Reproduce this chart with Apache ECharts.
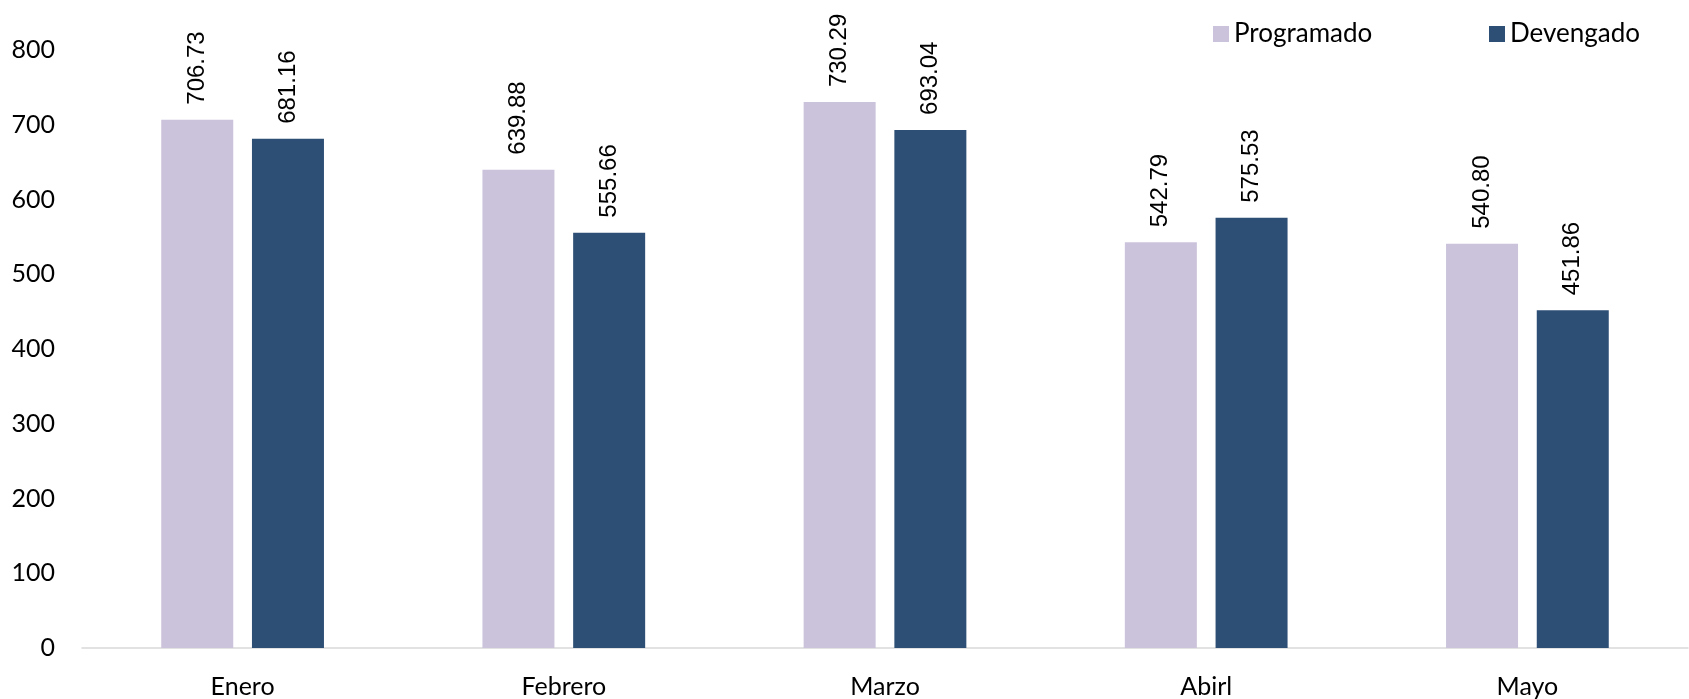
<!DOCTYPE html>
<html>
<head>
<meta charset="utf-8">
<script src="https://cdn.jsdelivr.net/npm/echarts@6/dist/echarts.min.js"></script>
<style>
  html, body { margin: 0; padding: 0; background: #ffffff; }
  #chart { width: 1689px; height: 699px; }
</style>
</head>
<body>
<div id="chart"></div>
<script>
// Monthly budget execution: programmed vs. accrued
const months = ['Enero', 'Febrero', 'Marzo', 'Abirl', 'Mayo'];
const programado = [706.73, 639.88, 730.29, 542.79, 540.80];
const devengado = [681.16, 555.66, 693.04, 575.53, 451.86];
const yTicks = [0, 100, 200, 300, 400, 500, 600, 700, 800];

const axisFont = 'Lato, "Open Sans", sans-serif';
const labelFont = '"Liberation Sans", Arial, sans-serif';

const valueLabel = {
  show: true,
  position: 'top',
  rotate: 90,
  align: 'left',
  verticalAlign: 'middle',
  distance: 15,
  color: '#000000',
  fontFamily: labelFont,
  fontSize: 24,
  formatter: p => p.value.toFixed(2)
};

const chart = echarts.init(document.getElementById('chart'), null, { renderer: 'canvas' });
chart.setOption({
  animation: false,
  backgroundColor: '#ffffff',
  grid: { left: 82, right: 1, top: 50, bottom: 51, containLabel: false },
  legend: [
    {
      data: ['Programado'], left: 1208, top: 16, itemWidth: 16, itemHeight: 16, itemGap: 4,
      icon: 'rect', textStyle: { fontFamily: axisFont, fontSize: 26, color: '#000000' }
    },
    {
      data: ['Devengado'], left: 1484, top: 16, itemWidth: 16, itemHeight: 16, itemGap: 4,
      icon: 'rect', textStyle: { fontFamily: axisFont, fontSize: 26, color: '#000000' }
    }
  ],
  xAxis: {
    type: 'category',
    data: months,
    axisLine: { lineStyle: { color: '#d9d9d9', width: 1.5 } },
    axisTick: { show: false },
    axisLabel: { color: '#000000', fontFamily: axisFont, fontSize: 25, margin: 26 }
  },
  yAxis: {
    type: 'value',
    min: yTicks[0],
    max: yTicks[yTicks.length - 1],
    interval: yTicks[1] - yTicks[0],
    axisLine: { show: false },
    axisTick: { show: false },
    splitLine: { show: false },
    axisLabel: { color: '#000000', fontFamily: axisFont, fontSize: 25, margin: 27 }
  },
  series: [
    {
      name: 'Programado', type: 'bar', data: programado,
      barWidth: 72, barGap: '26%',
      itemStyle: { color: '#cbc3db' },
      label: valueLabel
    },
    {
      name: 'Devengado', type: 'bar', data: devengado,
      barWidth: 72,
      itemStyle: { color: '#2d4e75' },
      label: valueLabel
    }
  ]
});
</script>
</body>
</html>
